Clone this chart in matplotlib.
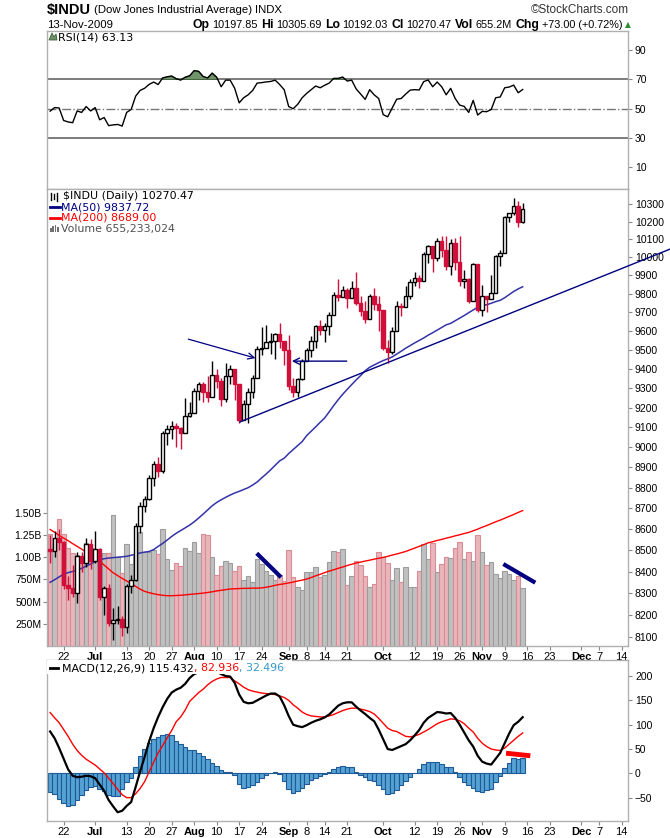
import matplotlib
matplotlib.use("Agg")
import matplotlib.pyplot as plt
from matplotlib import font_manager
from matplotlib.patches import Rectangle, Polygon
from matplotlib.ticker import NullLocator
import numpy as np

# $INDU daily, 17-Jun-2009 .. 13-Nov-2009
opens = [8504.67, 8497.18, 8555.60, 8539.73, 8339.01, 8322.91, 8299.86, 8472.40, 8438.39, 8529.38,
         8447.00, 8504.06, 8280.74, 8324.87, 8163.60, 8178.41, 8183.17, 8146.52, 8331.68, 8359.49,
         8616.21, 8711.82, 8743.94, 8848.15, 8915.94, 8881.26, 9069.29, 9093.24, 9108.51, 9096.72,
         9070.72, 9154.46, 9171.61, 9286.56, 9320.19, 9280.97, 9256.26, 9370.07, 9337.95, 9241.45,
         9361.61, 9398.19, 9321.40, 9135.34, 9217.94, 9279.16, 9350.05, 9505.96, 9509.28, 9539.29,
         9543.52, 9580.63, 9544.20, 9496.28, 9310.60, 9280.67, 9344.61, 9441.27, 9497.34, 9547.22,
         9627.48, 9605.41, 9626.80, 9683.41, 9791.71, 9783.92, 9820.20, 9778.86, 9829.87, 9748.55,
         9707.44, 9665.19, 9789.36, 9742.20, 9712.28, 9509.28, 9487.67, 9599.75, 9731.25, 9725.58,
         9786.87, 9864.94, 9885.80, 9871.06, 10015.86, 10062.94, 9995.91, 10092.19, 10041.48, 9949.36,
         10081.31, 9972.18, 9867.96, 9882.17, 9762.69, 9962.58, 9712.73, 9789.44, 9771.91, 9802.14,
         10005.96, 10023.42, 10226.94, 10246.97, 10291.26, 10197.85]
highs = [8570, 8590, 8600, 8545, 8380, 8430, 8490, 8490, 8560, 8555,
         8590, 8510, 8335, 8340, 8230, 8240, 8195, 8340, 8385, 8630,
         8730, 8760, 8860, 8930, 8950, 9080, 9110, 9130, 9120, 9100,
         9250, 9230, 9300, 9330, 9330, 9360, 9440, 9400, 9350, 9430,
         9420, 9400, 9322, 9240, 9300, 9370, 9520, 9620, 9630, 9590,
         9590, 9640, 9545, 9580, 9350, 9350, 9450, 9510, 9570, 9630,
         9660, 9640, 9700, 9810, 9880, 9840, 9830, 9870, 9920, 9790,
         9760, 9800, 9830, 9790, 9713, 9550, 9620, 9760, 9750, 9840,
         9880, 9920, 9900, 10030, 10070, 10063, 10110, 10120, 10120, 10100,
         10110, 10120, 9930, 9885, 9970, 9963, 9850, 9790, 9900, 10010,
         10040, 10230, 10250, 10336, 10316, 10305.69]
lows = [8440, 8470, 8500, 8320, 8270, 8280, 8255, 8400, 8420, 8410,
        8440, 8270, 8200, 8150, 8087, 8160, 8105, 8120, 8300, 8358,
        8580, 8680, 8740, 8810, 8850, 8870, 9010, 9040, 9000, 8990,
        9070, 9150, 9170, 9240, 9230, 9230, 9256, 9300, 9210, 9230,
        9320, 9240, 9120, 9135, 9120, 9250, 9350, 9470, 9510, 9480,
        9450, 9510, 9420, 9290, 9252, 9255, 9340, 9441, 9460, 9510,
        9580, 9540, 9580, 9683, 9760, 9780, 9720, 9779, 9740, 9680,
        9640, 9665, 9710, 9600, 9500, 9430, 9480, 9600, 9680, 9726,
        9770, 9840, 9830, 9871, 9970, 9920, 9980, 10000, 9930, 9900,
        9930, 9840, 9830, 9750, 9763, 9700, 9680, 9700, 9770, 9802,
        9950, 10023, 10200, 10240, 10170, 10192.03]
closes = [8497.18, 8555.60, 8539.73, 8339.01, 8322.91, 8299.86, 8472.40, 8438.39, 8529.38, 8447.00,
          8504.06, 8280.74, 8324.87, 8163.60, 8178.41, 8183.17, 8146.52, 8331.68, 8359.49, 8616.21,
          8711.82, 8743.94, 8848.15, 8915.94, 8881.26, 9069.29, 9093.24, 9108.51, 9096.72, 9070.72,
          9154.46, 9171.61, 9286.56, 9320.19, 9280.97, 9256.26, 9370.07, 9337.95, 9241.45, 9361.61,
          9398.19, 9321.40, 9135.34, 9217.94, 9279.16, 9350.05, 9505.96, 9509.28, 9539.29, 9543.52,
          9580.63, 9544.20, 9496.28, 9310.60, 9280.67, 9344.61, 9441.27, 9497.34, 9547.22, 9627.48,
          9605.41, 9626.80, 9683.41, 9791.71, 9783.92, 9820.20, 9778.86, 9829.87, 9748.55, 9707.44,
          9665.19, 9789.36, 9742.20, 9712.28, 9509.28, 9487.67, 9599.75, 9731.25, 9725.58, 9786.87,
          9864.94, 9885.80, 9871.06, 10015.86, 10062.94, 9995.91, 10092.19, 10041.48, 9949.36, 10081.31,
          9972.18, 9867.96, 9882.17, 9762.69, 9962.58, 9712.73, 9789.44, 9771.91, 9802.14, 10005.96,
          10023.42, 10226.94, 10246.97, 10291.26, 10197.47, 10270.47]
volume_m = [1261, 1150, 1427, 1261, 1100, 1044, 1025, 988, 1157, 1100,
            1044, 895, 1044, 1044, 1475, 1000, 818, 1145, 925, 1010,
            1283, 1063, 1063, 1081, 1036, 1314, 980, 856, 930, 900,
            1100, 1070, 1168, 1044, 1261, 1250, 1000, 800, 900, 960,
            940, 850, 900, 743, 788, 725, 980, 923, 848, 800,
            743, 803, 736, 1081, 773, 668, 627, 830, 830, 886,
            773, 800, 946, 1070, 1058, 1089, 683, 785, 957, 912,
            785, 661, 695, 1060, 1000, 935, 743, 875, 717, 886,
            661, 661, 841, 1145, 976, 1156, 830, 920, 999, 988,
            1100, 1168, 976, 1058, 957, 1250, 1058, 912, 946, 807,
            762, 841, 807, 740, 788, 655]
ma50 = [8350, 8362, 8375, 8388, 8395, 8400, 8406, 8415, 8425, 8435,
        8446, 8454, 8460, 8463, 8465, 8467, 8469, 8471, 8476, 8481,
        8487, 8491, 8494, 8503, 8518, 8532, 8548, 8565, 8580, 8593,
        8606, 8619, 8635, 8653, 8672, 8692, 8712, 8728, 8741, 8753,
        8764, 8774, 8782, 8791, 8800, 8813, 8828, 8848, 8867, 8888,
        8910, 8932, 8945, 8968, 8988, 9008, 9028, 9058, 9080, 9102,
        9125, 9147, 9178, 9210, 9240, 9268, 9293, 9318, 9342, 9365,
        9390, 9408, 9420, 9432, 9443, 9452, 9462, 9477, 9492, 9508,
        9522, 9536, 9549, 9562, 9577, 9590, 9604, 9618, 9632, 9640,
        9654, 9668, 9682, 9697, 9712, 9726, 9736, 9740, 9748, 9757,
        9764, 9778, 9795, 9812, 9826, 9837.72]
ma200 = [8598, 8585, 8570, 8557, 8545, 8531, 8518, 8505, 8491, 8478,
         8465, 8448, 8430, 8412, 8394, 8381, 8368, 8356, 8343, 8331,
         8318, 8308, 8302, 8297, 8293, 8290, 8288, 8288, 8289, 8290,
         8292, 8294, 8296, 8298, 8300, 8303, 8306, 8310, 8313, 8316,
         8319, 8320, 8321, 8322, 8322, 8323, 8323, 8324, 8327, 8331,
         8336, 8340, 8343, 8347, 8351, 8356, 8360, 8365, 8372, 8380,
         8387, 8395, 8402, 8408, 8415, 8421, 8428, 8434, 8440, 8444,
         8449, 8453, 8458, 8462, 8466, 8471, 8477, 8482, 8488, 8494,
         8502, 8510, 8518, 8526, 8535, 8540, 8546, 8551, 8557, 8562,
         8568, 8573, 8579, 8584, 8592, 8600, 8609, 8617, 8626, 8635,
         8643, 8652, 8661, 8670, 8680, 8689.00]
rsi14 = [48.4, 50.8, 50.5, 42.0, 41.0, 40.5, 48.5, 47.5, 51.5, 48.5,
         50.8, 42.5, 44.0, 38.5, 39.0, 39.3, 38.2, 47.5, 49.5, 58.6,
         62.5, 64.0, 66.6, 68.2, 66.5, 71.0, 71.8, 72.3, 70.5, 69.5,
         71.5, 72.5, 76.0, 75.5, 72.0, 71.0, 74.3, 71.5, 65.0, 69.5,
         69.5, 64.0, 54.0, 57.5, 59.5, 62.5, 67.5, 67.8, 68.3, 68.6,
         69.5, 66.5, 63.0, 51.5, 50.0, 53.0, 57.5, 60.5, 63.0, 65.5,
         64.3, 66.0, 67.5, 70.7, 70.7, 71.6, 68.9, 69.5, 63.5, 60.0,
         56.4, 63.0, 59.5, 57.0, 46.0, 44.5, 50.5, 56.5, 57.0, 60.0,
         62.7, 63.0, 62.8, 68.5, 69.6, 65.0, 68.2, 65.0, 59.5, 63.9,
         57.0, 52.5, 51.6, 47.5, 55.7, 45.7, 48.2, 48.0, 49.5, 57.5,
         58.0, 64.3, 64.8, 66.1, 60.9, 63.13]
macd_line = [86, 72, 52, 30, 8, -5, -8, -7, -5, -6,
             -10, -23, -36, -55, -68, -80, -77, -67, -59, -28,
             4, 34, 66, 93, 116, 136, 153, 166, 172, 176,
             184, 196, 204, 208, 209, 211, 211, 209, 204, 200,
             199, 186, 162, 147, 144, 145, 150, 155, 160, 164,
             164, 158, 140, 118, 100, 97, 95, 99, 104, 108,
             111, 115, 121, 130, 139, 144, 146, 146, 137, 129,
             122, 114, 107, 90, 70, 50, 48, 52, 56, 60,
             68, 78, 89, 104, 114, 120, 126, 125, 123, 124,
             114, 100, 84, 68, 55, 36, 24, 20, 18, 30,
             42, 62, 82, 99, 106, 115.432]
macd_signal = [125, 114, 104, 90, 76, 60, 47, 37, 29, 23,
               17, 9, 1, -10, -21, -33, -44, -50, -50, -42,
               -31, -17, 3, 23, 42, 57, 73, 88, 106, 116,
               130, 148, 157, 166, 173, 182, 189, 194, 197, 197,
               197, 190, 184, 177, 172, 169, 167, 165, 164, 163,
               162, 159, 156, 150, 141, 134, 126, 121, 118, 117,
               116, 116, 118, 121, 125, 129, 132, 134, 134, 132,
               130, 127, 122, 113, 103, 93, 88, 86, 81, 76,
               75, 77, 80, 85, 90, 96, 102, 106, 109, 112,
               111, 108, 102, 93, 85, 72, 62, 55, 50, 48,
               47, 52, 60, 68, 76, 82.936]
macd_hist = [-39, -42, -52, -60, -68, -65, -55, -44, -34, -29,
             -27, -32, -37, -45, -47, -47, -33, -17, -9, 14,
             35, 51, 63, 70, 74, 79, 80, 78, 66, 60,
             54, 48, 47, 42, 36, 29, 22, 15, 7, 3,
             2, -4, -22, -30, -28, -24, -17, -10, -4, 1,
             2, -1, -16, -32, -41, -37, -31, -22, -14, -9,
             -5, -1, 3, 9, 14, 15, 14, 12, 3, -3,
             -8, -13, -15, -23, -33, -43, -40, -34, -25, -16,
             -7, 1, 9, 19, 24, 24, 24, 19, 14, 12,
             3, -8, -18, -25, -30, -36, -38, -35, -32, -18,
             -5, 10, 22, 31, 30, 32.496]

# axis ticks (trading-day index for the date labels)
date_ticks = [3, 10, 17, 22, 27, 32, 37, 42, 47, 53, 57, 61, 66, 74, 81, 86, 91, 96,
              101, 106, 111, 118, 122, 127]
date_labels = ["22", "Jul", "13", "20", "27", "Aug", "10", "17", "24", "Sep", "8", "14", "21",
               "Oct", "12", "19", "26", "Nov", "9", "16", "23", "Dec", "7", "14"]
month_names = {"Jul", "Aug", "Sep", "Oct", "Nov", "Dec"}
price_ticks = list(range(8100, 10301, 100))
vol_ticks = [250e6, 500e6, 750e6, 1.0e9, 1.25e9, 1.5e9]
vol_labels = ["250M", "500M", "750M", "1.00B", "1.25B", "1.50B"]
rsi_ticks = [10, 30, 50, 70, 90]
macd_ticks = [-50, 0, 50, 100, 150, 200]

# hand-drawn annotations on the chart, (day index, value)
trend_x, trend_y = [42.2, 137.8], [9127, 10046]
arrow_in = ((30.7, 9556), (45.6, 9456))      # tail, tip
arrow_back = ((65.9, 9440), (53.7, 9440))
vol_marks = [([45.9, 51.3], [1044e6, 774e6]), ([100.7, 107.8], [923e6, 713e6])]
macd_mark = ([101.3, 106.7], [41.4, 36.1])

W, H = 670, 838
RED = "#d0103a"
NAVY = "#000080"
FRAME = "#b0b0b0"

installed = {f.name for f in font_manager.fontManager.ttflist}
NARROW = "Liberation Sans Narrow" if "Liberation Sans Narrow" in installed else "Liberation Sans"
SANS = "Liberation Sans"
plt.rcParams["font.family"] = [SANS, "DejaVu Sans"]

fig = plt.figure(figsize=(W / 100, H / 100), dpi=100)


def box(l, t, r, b):
    return [l / W, 1 - b / H, (r - l) / W, (b - t) / H]


L, R = 47, 628
XMIN, XMAX = -0.7, 128.4
ax_rsi = fig.add_axes(box(L, 31, R, 189))
ax_vol = fig.add_axes(box(L, 189, R, 646))
ax = fig.add_axes(box(L, 189, R, 646))
ax_macd = fig.add_axes(box(L, 660, R, 821))
ax.patch.set_visible(False)

n = len(closes)
x = np.arange(n)
down = [closes[0] < opens[0]] + [closes[i] < closes[i - 1] for i in range(1, n)]


def style(a, right=True):
    a.set_xlim(XMIN, XMAX)
    for s in a.spines.values():
        s.set_color(FRAME)
        s.set_linewidth(1)
    a.tick_params(axis="both", direction="out", length=3, width=0.8, color="#888888",
                  labelsize=7.5, pad=2)
    if right:
        a.yaxis.tick_right()
    a.set_xticks(date_ticks)
    a.xaxis.set_minor_locator(NullLocator())


def date_labels_on(a):
    a.set_xticklabels(date_labels, fontsize=8)
    for t in a.get_xticklabels():
        if t.get_text() in month_names:
            t.set_fontweight("bold")
    a.tick_params(axis="x", pad=1)


# ---- RSI ----
style(ax_rsi)
rsi = np.array(rsi14)
ax_rsi.fill_between(x, rsi, 70, where=rsi >= 70, interpolate=True,
                    facecolor="#6e9467", edgecolor="#3f5f3a", lw=0.6, zorder=2)
ax_rsi.plot(x, rsi, color="black", lw=1, zorder=3)
ax_rsi.axhline(70, color="#666666", lw=1.2, zorder=1)
ax_rsi.axhline(30, color="#666666", lw=1.2, zorder=1)
ax_rsi.axhline(50, color="#777777", lw=1, ls="-.", zorder=1)
ax_rsi.set_ylim(-4.7, 103)
ax_rsi.set_yticks(rsi_ticks)
ax_rsi.set_xticklabels([])

# ---- volume (behind the price panel) ----
ax_vol.set_xlim(XMIN, XMAX)
ax_vol.bar(x, np.array(volume_m) * 1e6, width=1.0,
           color=["#e8b6bb" if d else "#c0c0c0" for d in down],
           edgecolor=["#d88d96" if d else "#9c9c9c" for d in down], lw=0.8, zorder=1)
for xs, ys in vol_marks:
    ax_vol.plot(xs, ys, color=NAVY, lw=3, solid_capstyle="butt", zorder=3)
ax_vol.set_ylim(0, 5.146e9)
ax_vol.set_yticks(vol_ticks)
ax_vol.set_yticklabels(vol_labels)
ax_vol.tick_params(axis="y", direction="out", length=3, width=0.8, color="#888888",
                   labelsize=7.5, pad=1)
ax_vol.set_xticks([])
for s in ax_vol.spines.values():
    s.set_visible(False)

# ---- price ----
style(ax)
ax.set_yscale("log")
ax.plot(x, ma200, color="#ff0000", lw=1, zorder=2)
ax.plot(x, ma50, color="#3333a8", lw=1.1, zorder=2)
for i in range(n):
    o, h, lo, c = opens[i], highs[i], lows[i], closes[i]
    col = RED if down[i] else "black"
    ax.vlines(i, lo, h, color=col, lw=1, zorder=3)
    b0, b1 = min(o, c), max(o, c)
    face = "white" if c >= o else col
    ax.add_patch(Rectangle((i - 0.4, b0), 0.8, max(b1 - b0, 1.0), facecolor=face,
                           edgecolor=col, lw=1, zorder=4))
ax.plot(trend_x, trend_y, color=NAVY, lw=1, clip_on=False, zorder=5)
ax.annotate("", xy=arrow_in[1], xytext=arrow_in[0],
            arrowprops=dict(arrowstyle="->", color=NAVY, lw=0.9, mutation_scale=11,
                            shrinkA=0, shrinkB=0), zorder=5)
ax.annotate("", xy=arrow_back[1], xytext=arrow_back[0],
            arrowprops=dict(arrowstyle="->", color=NAVY, lw=1, mutation_scale=11,
                            shrinkA=0, shrinkB=0), zorder=5)
ax.set_ylim(8060, 10386)
ax.set_yticks(price_ticks)
ax.set_yticklabels([str(p) for p in price_ticks])
ax.yaxis.set_minor_locator(NullLocator())
date_labels_on(ax)

# ---- MACD ----
style(ax_macd)
ax_macd.bar(x, macd_hist, width=1.0, color="#55a2d4", edgecolor="#1f5a96", lw=0.8, zorder=1)
ax_macd.plot(x, macd_signal, color="#ff0000", lw=1, zorder=2)
ax_macd.plot(x, macd_line, color="black", lw=1.6, zorder=3)
ax_macd.plot(*macd_mark, color="#ff0000", lw=3.5, solid_capstyle="butt", zorder=4)
ax_macd.set_ylim(-98, 233)
ax_macd.set_yticks(macd_ticks)
date_labels_on(ax_macd)
ax_macd.add_patch(Rectangle((0, 0.913), (292 - L) / (R - L), 0.09, transform=ax_macd.transAxes,
                            facecolor="white", edgecolor="none", zorder=5))

# ---- text ----
rend = fig.canvas.get_renderer()


def text_run(pieces, xpx, ypx, align="left"):
    items = []
    for s, kw, gap in pieces:
        t = fig.text(0, 1 - ypx / H, s, va="center", ha="left", zorder=7, **kw)
        items.append((t, t.get_window_extent(rend).width, gap))
    total = sum(w + g for _, w, g in items) - items[-1][2]
    cur = xpx - total if align == "right" else xpx
    for t, w, g in items:
        t.set_x(cur / W)
        cur += w + g


nb = dict(family=[NARROW, "DejaVu Sans"], fontsize=8.2)
nv = dict(family=[NARROW, "DejaVu Sans"], fontsize=7.8)
nbb = dict(family=[NARROW, "DejaVu Sans"], fontsize=8.8, fontweight="bold")
text_run([("$INDU", dict(family=[NARROW, "DejaVu Sans"], fontsize=10.5, fontweight="bold"), 3),
          ("(Dow Jones Industrial Average)", nb, 3), ("INDX", nb, 0)], 47, 10)
text_run([("\u00a9StockCharts.com", dict(family=[NARROW, "DejaVu Sans"], fontsize=8.5,
                                          color="#333333"), 0)], 629, 10, align="right")
text_run([("13-Nov-2009", nb, 0)], 47, 25)
text_run([("Op", nbb, 2), ("10197.85", nv, 4), ("Hi", nbb, 2), ("10305.69", nv, 4),
          ("Lo", nbb, 2), ("10192.03", nv, 4), ("Cl", nbb, 2), ("10270.47", nv, 4),
          ("Vol", nbb, 2), ("655.2M", nv, 4), ("Chg", nbb, 2), ("+73.00 (+0.72%)", nv, 3),
          ("\u25b2", dict(family="DejaVu Sans", fontsize=5.5, color="#2e8b2e"), 0)],
         631, 25, align="right")

leg = dict(family="DejaVu Sans", fontsize=7.9)
text_run([("RSI(14) 63.13", leg, 0)], 58, 37)
fig.patches.append(Polygon([[49 / W, 1 - 40 / H], [52 / W, 1 - 33 / H], [54 / W, 1 - 37 / H],
                            [56 / W, 1 - 34 / H], [57 / W, 1 - 40 / H]], closed=True,
                           transform=fig.transFigure, facecolor="#6e9467",
                           edgecolor="#3f5f3a", lw=0.6))

text_run([("$INDU (Daily) 10270.47", leg, 0)], 63, 196)
text_run([("MA(50) 9837.72", dict(leg, color=NAVY), 0)], 61, 207)
text_run([("MA(200) 8689.00", dict(leg, color="#ff0000"), 0)], 61, 218)
text_run([("Volume 655,233,024", dict(leg, color="#505050"), 0)], 61, 229)
for yy, col in [(207, NAVY), (218, "#ff0000")]:
    fig.add_artist(plt.Line2D([50 / W, 60 / W], [1 - yy / H] * 2, color=col, lw=2))
for k, hh in enumerate([4, 6, 7, 5]):
    fig.add_artist(Rectangle(((50 + 2.3 * k) / W, 1 - 232 / H), 1.8 / W, hh / H,
                             transform=fig.transFigure, facecolor="#707070", edgecolor="none"))
for k, (a, b) in enumerate([(193, 200), (194, 199), (193, 201)]):
    fig.add_artist(plt.Line2D([(51 + 3 * k) / W] * 2, [1 - a / H, 1 - b / H], color="black", lw=1))

fig.add_artist(plt.Line2D([50 / W, 58 / W], [1 - 668 / H] * 2, color="black", lw=2))
text_run([("MACD(12,26,9) 115.432", leg, 0), (", 82.936", dict(leg, color="#ff0000"), 0),
          (", 32.496", dict(leg, color="#3399cc"), 0)], 62, 668)

fig.savefig("out.png", dpi=100)
